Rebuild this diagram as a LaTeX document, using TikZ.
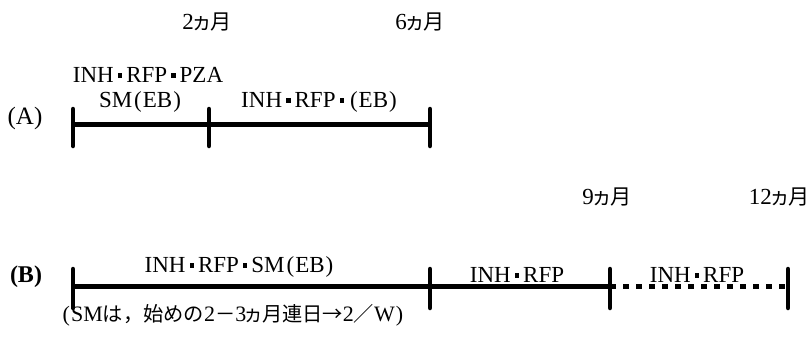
\documentclass[tikz,border=0pt]{standalone}
\usepackage{fontspec}
\setmainfont{Liberation Serif}
\newfontfamily\jp[Scale=0.92]{Noto Sans CJK JP}
\newcommand{\J}[1]{{\jp #1}}
\newcommand{\ka}{{\jp\kern-2.5pt ヵ\kern-2pt}}
\newcommand{\dt}{\kern4pt\raisebox{5pt}{\rule{4.5pt}{4.5pt}}\kern4pt}
\newcommand{\lp}{\kern2pt(\kern1pt}
\newcommand{\rp}{\kern1pt)\kern2pt}
\begin{document}
\begin{tikzpicture}[x=1pt,y=-1pt,
  lbl/.style={font=\fontsize{23}{25}\selectfont, inner sep=0pt, anchor=center},
  big/.style={font=\fontsize{25}{27}\selectfont, inner sep=0pt, anchor=center},
  seg/.style={line width=5pt},
  dots/.style={line width=5pt, dash pattern=on 6pt off 7pt},
  tick/.style={line width=4.5pt, line cap=round}]
\useasboundingbox (0,0) rectangle (811,338);
% (A)
\coordinate (a0) at (73,124);
\coordinate (a1) at (209,124);
\coordinate (a2) at (430,124);
\draw[seg] (a0) -- (a1) -- (a2);
\foreach \p in {a0,a1,a2}{\draw[tick] ([yshift=-22pt]\p) -- ([yshift=15pt]\p);}
\node[big] (A) at (25,118) {(A)};
\node[lbl] (m2) at (207,22) {2\ka\J{月}};
\node[lbl] (m6) at (420,22) {6\ka\J{月}};
\node[lbl] (a1t) at (148,75) {INH\dt RFP\dt PZA};
\node[lbl] (a2t) at (141,102) {SM\lp EB\rp};
\node[lbl] (a3t) at (320,102) {INH\dt RFP\dt\lp EB\rp};
% (B)
\coordinate (b0) at (73,286);
\coordinate (b1) at (430,286);
\coordinate (b2) at (610,286);
\coordinate (b3) at (788,286);
\draw[seg] (b0) -- (b1) -- (b2);
\draw[dots] (b2) -- (b3);
\foreach \p in {b0,b1,b2,b3}{\draw[tick] ([yshift=-22pt]\p) -- ([yshift=17pt]\p);}
\node[big,font=\fontsize{24}{26}\selectfont\bfseries] (B) at (26,277) {(B)};
\node[lbl] (m9) at (607,197) {9\ka\J{月}};
\node[lbl,anchor=east] (m12) at (810,197) {12\ka\J{月}};
\node[lbl] (b1t) at (240,267) {INH\dt RFP\dt SM\lp EB\rp};
\node[lbl] (b2t) at (517,275) {INH\dt RFP};
\node[lbl] (b3t) at (697,275) {INH\dt RFP};
\node[lbl,font=\fontsize{22}{24}\selectfont] (note) at (233,315) {\lp SM\J{は，始めの}2\J{－}3\ka\J{月連日→}2\J{／}W\rp};
\end{tikzpicture}
\end{document}
